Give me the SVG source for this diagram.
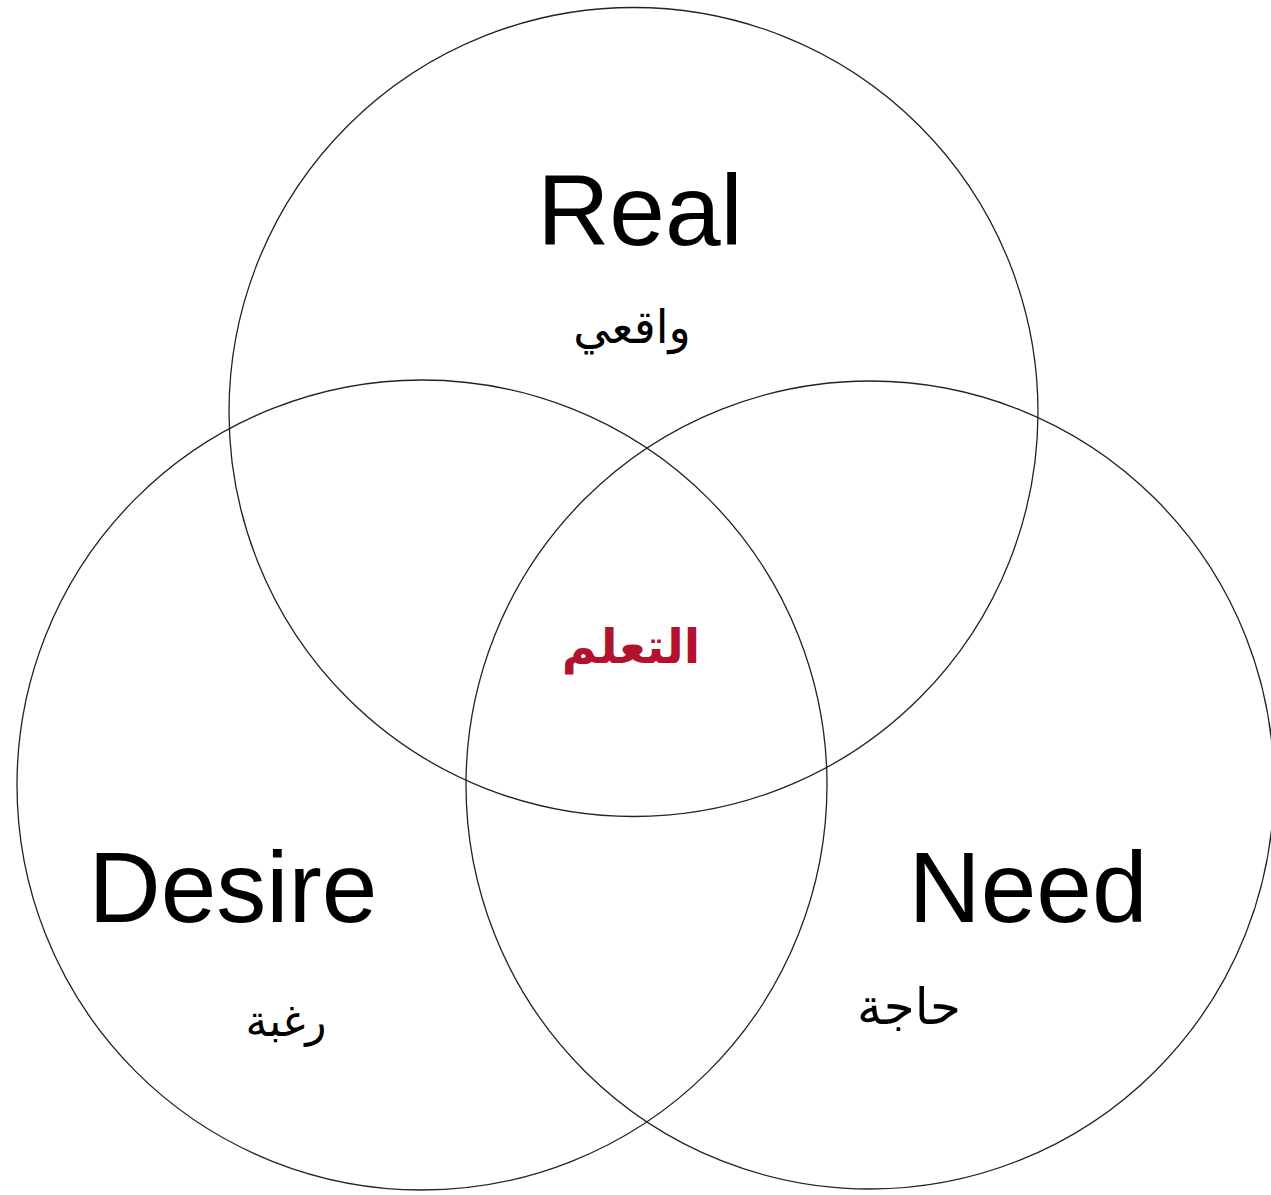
<svg xmlns="http://www.w3.org/2000/svg" width="1271" height="1195" viewBox="0 0 1271 1195">
<style>
.c{fill:none;stroke:#222;stroke-width:1.3}
.en{font-family:"Liberation Sans",Arial,sans-serif;font-size:100px;fill:#000;text-anchor:middle}
.ar{font-family:"DejaVu Sans",sans-serif;font-size:46px;fill:#000;text-anchor:middle}
.mid{font-family:"DejaVu Sans",sans-serif;font-size:48px;font-weight:bold;fill:#b3112e;text-anchor:middle}
</style>
<rect width="1271" height="1195" fill="#fff"/>
<g id="real">
<circle class="c" cx="633.5" cy="412" r="404.5"/>
<text class="en" x="640" y="245">Real</text>
<text class="ar" x="632" y="343" direction="rtl">واقعي</text>
</g>
<g id="desire">
<circle class="c" cx="422" cy="785" r="405"/>
<text class="en" x="233" y="922">Desire</text>
<text class="ar" x="286" y="1036" style="font-size:44px" direction="rtl">رغبة</text>
</g>
<g id="need">
<circle class="c" cx="870" cy="785" r="404"/>
<text class="en" x="1028" y="922">Need</text>
<text class="ar" x="909" y="1024" style="font-size:50px" direction="rtl">حاجة</text>
</g>
<g id="center">
<text class="mid" x="631" y="663" direction="rtl">التعلم</text>
</g>
<g id="connectors"></g>
</svg>
